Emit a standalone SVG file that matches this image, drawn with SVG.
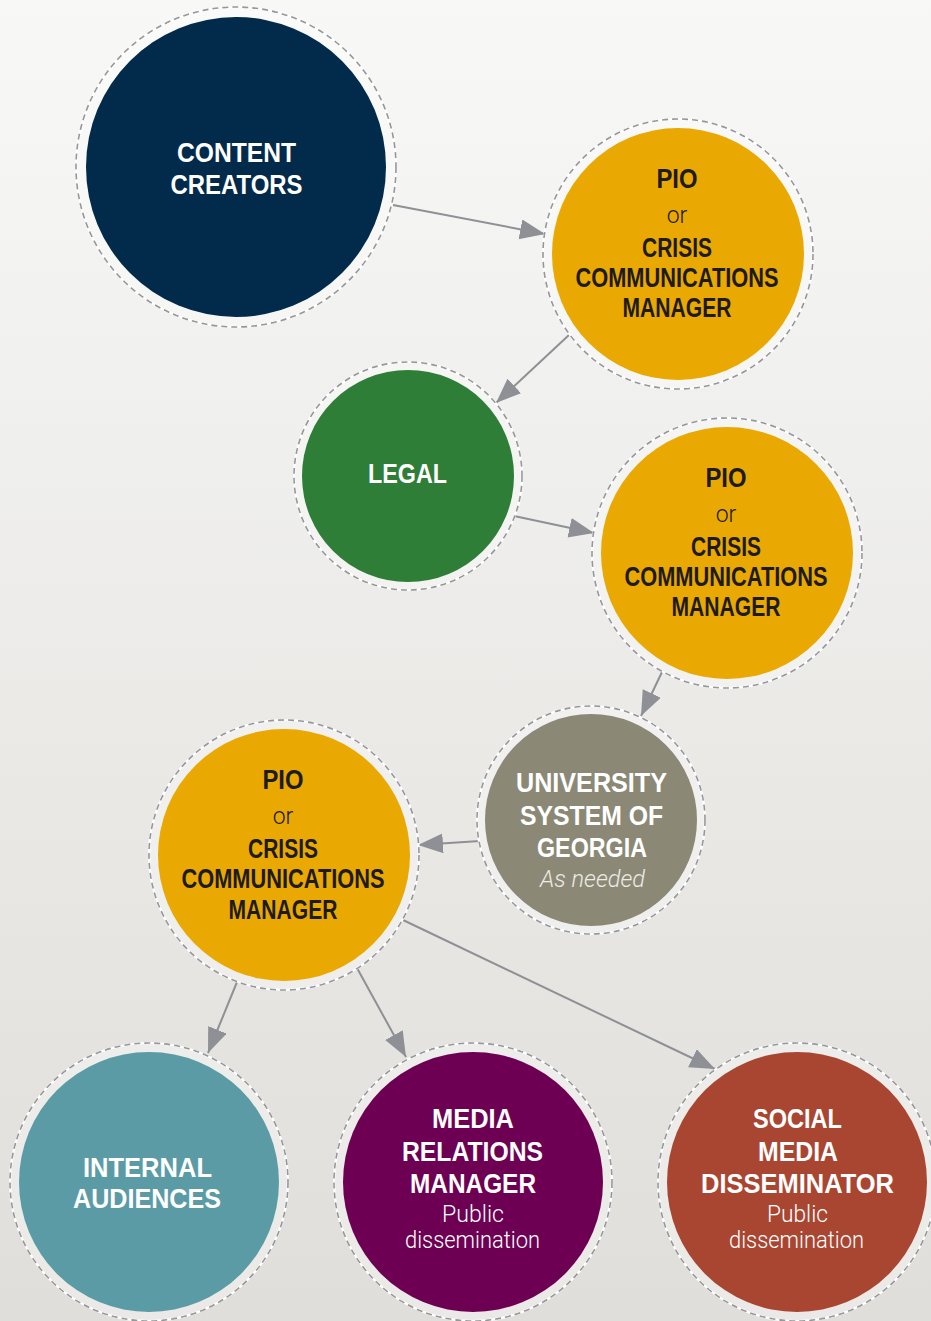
<svg xmlns="http://www.w3.org/2000/svg" width="931" height="1321" viewBox="0 0 931 1321">
<defs>
<linearGradient id="bg" x1="0" y1="0" x2="0" y2="1">
<stop offset="0" stop-color="#f8f8f7"/>
<stop offset="1" stop-color="#dfdeda"/>
</linearGradient>
<marker id="ah" markerUnits="userSpaceOnUse" markerWidth="28" markerHeight="22" refX="25" refY="10" orient="auto">
<path d="M0,0 L25,10 L0,20 Z" fill="#8f9095"/>
</marker>
<style>
.ring{fill:#ffffff;fill-opacity:0.35;stroke:#ffffff;stroke-width:2.2}
.dash{fill:none;stroke:#97979a;stroke-width:1.6;stroke-dasharray:6 4}
.t{font-family:"Liberation Sans",Arial,sans-serif;font-weight:bold;font-size:27px;text-anchor:middle}
.w{fill:#ffffff}
.d{fill:#1e1a14}
.l{font-family:Roboto,"Liberation Sans",sans-serif;font-weight:300;font-size:23px;text-anchor:middle}
.con{stroke:#8f9095;stroke-width:2;fill:none;marker-end:url(#ah)}
</style>
</defs>
<rect width="931" height="1321" fill="url(#bg)"/>

<g id="connectors">
<line class="con" x1="393" y1="205" x2="545" y2="234"/>
<line class="con" x1="569" y1="335" x2="496" y2="403"/>
<line class="con" x1="514" y1="516" x2="594" y2="533"/>
<line class="con" x1="662" y1="672" x2="641" y2="716"/>
<line class="con" x1="480" y1="841" x2="418" y2="845"/>
<line class="con" x1="237" y1="982" x2="208" y2="1053"/>
<line class="con" x1="357" y1="968" x2="406" y2="1057"/>
<line class="con" x1="403" y1="920" x2="715" y2="1069"/>
</g>

<g id="content-creators">
<circle class="ring" cx="236" cy="167" r="160"/>
<circle class="dash" cx="236" cy="167" r="160"/>
<circle cx="236" cy="167" r="150" fill="#022a4b"/>
<text class="t w" x="236.5" y="162" textLength="119" lengthAdjust="spacingAndGlyphs">CONTENT</text>
<text class="t w" x="236.5" y="194" textLength="132" lengthAdjust="spacingAndGlyphs">CREATORS</text>
</g>

<g id="pio-1">
<circle class="ring" cx="678" cy="254" r="135"/>
<circle class="dash" cx="678" cy="254" r="135"/>
<circle cx="678" cy="254" r="126" fill="#e9a902"/>
<text class="t d" x="677" y="188" textLength="41" lengthAdjust="spacingAndGlyphs">PIO</text>
<text class="l d" x="677" y="223">or</text>
<text class="t d" x="677" y="257" textLength="70" lengthAdjust="spacingAndGlyphs">CRISIS</text>
<text class="t d" x="677" y="287" textLength="203" lengthAdjust="spacingAndGlyphs">COMMUNICATIONS</text>
<text class="t d" x="677" y="317" textLength="109" lengthAdjust="spacingAndGlyphs">MANAGER</text>
</g>

<g id="legal">
<circle class="ring" cx="408" cy="476" r="114"/>
<circle class="dash" cx="408" cy="476" r="114"/>
<circle cx="408" cy="476" r="106" fill="#2e7e37"/>
<text class="t w" x="407.5" y="483" textLength="79" lengthAdjust="spacingAndGlyphs">LEGAL</text>
</g>

<g id="pio-2">
<circle class="ring" cx="727" cy="553" r="135"/>
<circle class="dash" cx="727" cy="553" r="135"/>
<circle cx="727" cy="553" r="126" fill="#e9a902"/>
<text class="t d" x="726" y="487" textLength="41" lengthAdjust="spacingAndGlyphs">PIO</text>
<text class="l d" x="726" y="522">or</text>
<text class="t d" x="726" y="556" textLength="70" lengthAdjust="spacingAndGlyphs">CRISIS</text>
<text class="t d" x="726" y="586" textLength="203" lengthAdjust="spacingAndGlyphs">COMMUNICATIONS</text>
<text class="t d" x="726" y="616" textLength="109" lengthAdjust="spacingAndGlyphs">MANAGER</text>
</g>

<g id="usg">
<circle class="ring" cx="591" cy="820" r="114"/>
<circle class="dash" cx="591" cy="820" r="114"/>
<circle cx="591" cy="820" r="106" fill="#8b8975"/>
<text class="t w" x="591.5" y="792" textLength="151" lengthAdjust="spacingAndGlyphs">UNIVERSITY</text>
<text class="t w" x="591.5" y="825" textLength="143" lengthAdjust="spacingAndGlyphs">SYSTEM OF</text>
<text class="t w" x="592" y="857" textLength="110" lengthAdjust="spacingAndGlyphs">GEORGIA</text>
<text class="l" x="592.5" y="887" fill="#ecebe4" font-style="italic" textLength="105" lengthAdjust="spacingAndGlyphs">As needed</text>
</g>

<g id="pio-3">
<circle class="ring" cx="284" cy="855" r="135"/>
<circle class="dash" cx="284" cy="855" r="135"/>
<circle cx="284" cy="855" r="126" fill="#e9a902"/>
<text class="t d" x="283" y="789" textLength="41" lengthAdjust="spacingAndGlyphs">PIO</text>
<text class="l d" x="283" y="824">or</text>
<text class="t d" x="283" y="858" textLength="70" lengthAdjust="spacingAndGlyphs">CRISIS</text>
<text class="t d" x="283" y="888" textLength="203" lengthAdjust="spacingAndGlyphs">COMMUNICATIONS</text>
<text class="t d" x="283" y="919" textLength="109" lengthAdjust="spacingAndGlyphs">MANAGER</text>
</g>

<g id="internal-audiences">
<circle class="ring" cx="149" cy="1182" r="139"/>
<circle class="dash" cx="149" cy="1182" r="139"/>
<circle cx="149" cy="1182" r="130" fill="#5b9ba6"/>
<text class="t w" x="147.5" y="1177" textLength="129" lengthAdjust="spacingAndGlyphs">INTERNAL</text>
<text class="t w" x="147" y="1208" textLength="148" lengthAdjust="spacingAndGlyphs">AUDIENCES</text>
</g>

<g id="media-relations">
<circle class="ring" cx="473" cy="1182" r="139"/>
<circle class="dash" cx="473" cy="1182" r="139"/>
<circle cx="473" cy="1182" r="130" fill="#6d0052"/>
<text class="t w" x="473" y="1128" textLength="82" lengthAdjust="spacingAndGlyphs">MEDIA</text>
<text class="t w" x="472.5" y="1161" textLength="141" lengthAdjust="spacingAndGlyphs">RELATIONS</text>
<text class="t w" x="473" y="1193" textLength="126" lengthAdjust="spacingAndGlyphs">MANAGER</text>
<text class="l w" x="473" y="1222" textLength="62" lengthAdjust="spacingAndGlyphs">Public</text>
<text class="l w" x="472.5" y="1248" textLength="135" lengthAdjust="spacingAndGlyphs">dissemination</text>
</g>

<g id="social-media">
<circle class="ring" cx="797" cy="1182" r="139"/>
<circle class="dash" cx="797" cy="1182" r="139"/>
<circle cx="797" cy="1182" r="130" fill="#a94632"/>
<text class="t w" x="797.5" y="1128" textLength="89" lengthAdjust="spacingAndGlyphs">SOCIAL</text>
<text class="t w" x="798" y="1161" textLength="80" lengthAdjust="spacingAndGlyphs">MEDIA</text>
<text class="t w" x="797.5" y="1193" textLength="193" lengthAdjust="spacingAndGlyphs">DISSEMINATOR</text>
<text class="l w" x="797.5" y="1222" textLength="61" lengthAdjust="spacingAndGlyphs">Public</text>
<text class="l w" x="796.5" y="1248" textLength="135" lengthAdjust="spacingAndGlyphs">dissemination</text>
</g>
</svg>
